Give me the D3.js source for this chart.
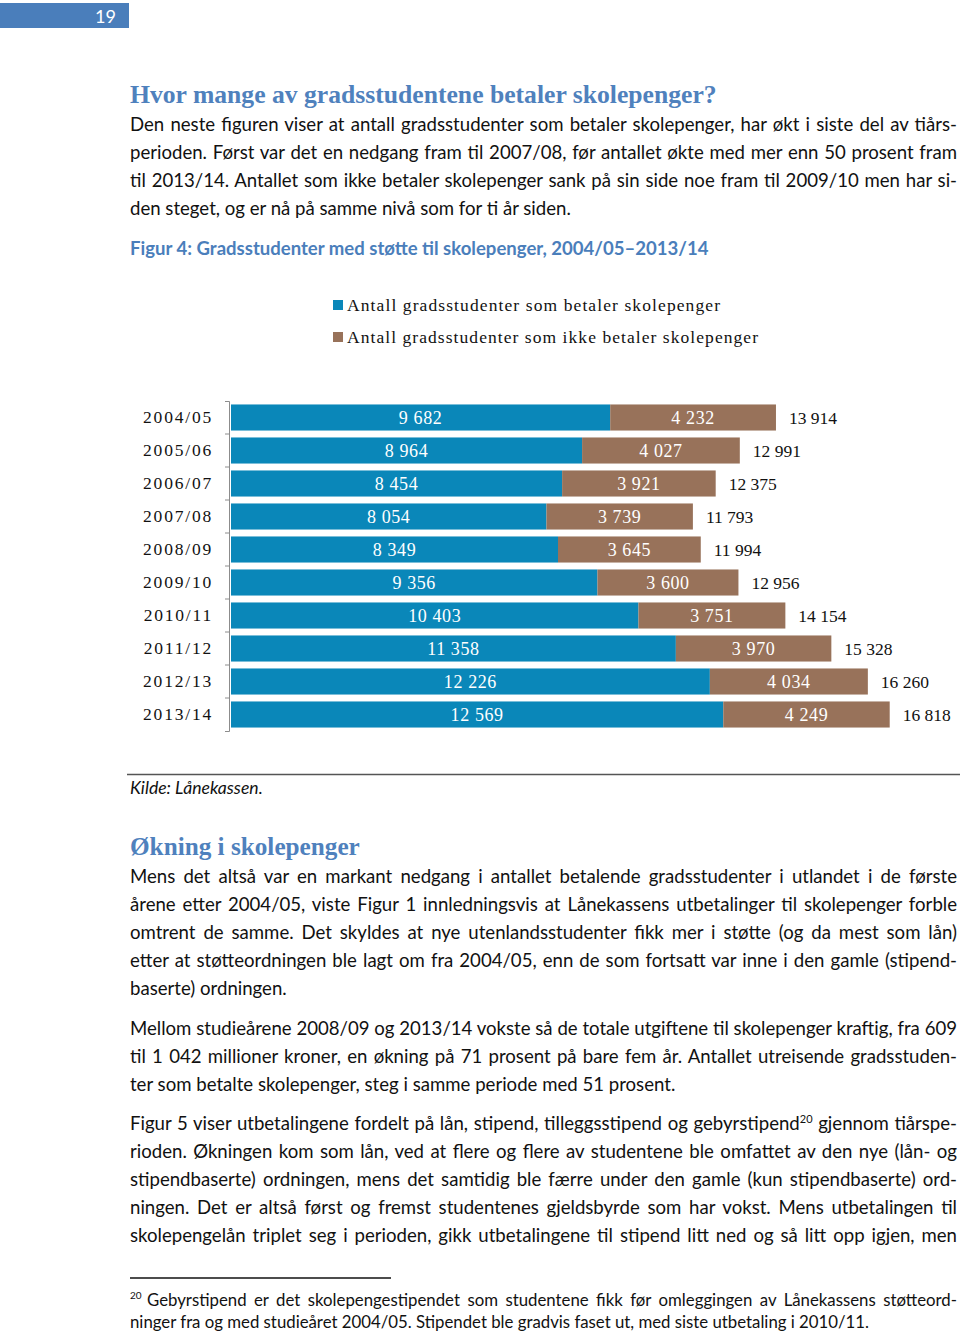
<!DOCTYPE html>
<html>
<head>
<meta charset="utf-8">
<script src="https://cdn.jsdelivr.net/npm/d3@7/dist/d3.min.js"></script>
<style>
html,body{margin:0;padding:0;background:#fff;}
svg{display:block;}
</style>
</head>
<body>
<svg id="page" width="960" height="1335"></svg>
<script>
// ---------- DATA ----------
const years = ["2004/05","2005/06","2006/07","2007/08","2008/09","2009/10","2010/11","2011/12","2012/13","2013/14"];
const betaler = [9682, 8964, 8454, 8054, 8349, 9356, 10403, 11358, 12226, 12569];
const ikkeBetaler = [4232, 4027, 3921, 3739, 3645, 3600, 3751, 3970, 4034, 4249];
const seriesNames = ["Antall gradsstudenter som betaler skolepenger","Antall gradsstudenter som ikke betaler skolepenger"];
const seriesColors = ["#0a87b9","#98725a"];

const pageNumber = "19";
const heading1 = "Hvor mange av gradsstudentene betaler skolepenger?";
const para1 = [
 "Den neste figuren viser at antall gradsstudenter som betaler skolepenger, har økt i siste del av tiårs-",
 "perioden. Først var det en nedgang fram til 2007/08, før antallet økte med mer enn 50 prosent fram",
 "til 2013/14. Antallet som ikke betaler skolepenger sank på sin side noe fram til 2009/10 men har si-",
 "den steget, og er nå på samme nivå som for ti år siden."
];
const figTitle = "Figur 4: Gradsstudenter med støtte til skolepenger, 2004/05–2013/14";
const source = "Kilde: Lånekassen.";
const heading2 = "Økning i skolepenger";
const para2 = [
 "Mens det altså var en markant nedgang i antallet betalende gradsstudenter i utlandet i de første",
 "årene etter 2004/05, viste Figur 1 innledningsvis at Lånekassens utbetalinger til skolepenger forble",
 "omtrent de samme. Det skyldes at nye utenlandsstudenter fikk mer i støtte (og da mest som lån)",
 "etter at støtteordningen ble lagt om fra 2004/05, enn de som fortsatt var inne i den gamle (stipend-",
 "baserte) ordningen."
];
const para3 = [
 "Mellom studieårene 2008/09 og 2013/14 vokste så de totale utgiftene til skolepenger kraftig, fra 609",
 "til 1 042 millioner kroner, en økning på 71 prosent på bare fem år. Antallet utreisende gradsstuden-",
 "ter som betalte skolepenger, steg i samme periode med 51 prosent."
];
const para4 = [
 ["Figur 5 viser utbetalingene fordelt på lån, stipend, tilleggsstipend og gebyrstipend","20"," gjennom tiårspe-"],
 ["rioden. Økningen kom som lån, ved at flere og flere av studentene ble omfattet av den nye (lån- og"],
 ["stipendbaserte) ordningen, mens det samtidig ble færre under den gamle (kun stipendbaserte) ord-"],
 ["ningen. Det er altså først og fremst studentenes gjeldsbyrde som har vokst. Mens utbetalingen til"],
 ["skolepengelån triplet seg i perioden, gikk utbetalingene til stipend litt ned og så litt opp igjen, men"]
];
const footnote = [
 "Gebyrstipend er det skolepengestipendet som studentene fikk før omleggingen av Lånekassens støtteord-",
 "ninger fra og med studieåret 2004/05. Stipendet ble gradvis faset ut, med siste utbetaling i 2010/11."
];

// ---------- HELPERS ----------
const svg = d3.select("#page");
const SANS = "Lato, 'Noto Sans', sans-serif";
const SERIF = "'Liberation Serif', 'DejaVu Serif', serif";
const BLUE_HEAD = "#4f81bd";
const BODY_SIZE = 18.6;
const fmt = d3.formatLocale({decimal:",", thousands:" ", grouping:[3], currency:["",""]}).format(",d");

function justify(t, width){
  const n = t.node();
  const w = n.getComputedTextLength();
  const spaces = (n.textContent.match(/ /g)||[]).length;
  if (spaces) t.attr("word-spacing", (width - w)/spaces);
}
function fitSize(t, width, base){
  const w = t.node().getComputedTextLength();
  t.attr("font-size", base * width / w);
}
function fitLetters(t, width){
  const n = t.node();
  const w = n.getComputedTextLength();
  const c = n.textContent.length;
  t.attr("letter-spacing", (width - w)/(c-1));
}
const LEFT = 130, RIGHT = 957;
function bodyLines(lines, y0, justifyAll){
  lines.forEach((line,i)=>{
    const t = svg.append("text").attr("x",LEFT).attr("y",y0+i*28)
      .attr("font-family",SANS).attr("font-size",BODY_SIZE).attr("fill","#111").text(line);
    if (justifyAll || i < lines.length-1) justify(t, RIGHT-LEFT);
  });
}

// ---------- PAGE HEADER ----------
svg.append("rect").attr("x",0).attr("y",3).attr("width",129).attr("height",25).attr("fill","#4a7ebb");
svg.append("text").attr("x",116).attr("y",23).attr("text-anchor","end")
  .attr("font-family",SANS).attr("font-size",18).attr("fill","#fff").text(pageNumber);

// ---------- TEXT ABOVE ----------
const h1 = svg.append("text").attr("x",LEFT).attr("y",103).attr("font-family",SERIF)
  .attr("font-weight","bold").attr("font-size",24).attr("fill",BLUE_HEAD).text(heading1);
fitSize(h1, 587, 24);
bodyLines(para1, 131, false);

const ft = svg.append("text").attr("x",LEFT).attr("y",255).attr("font-family",SANS)
  .attr("font-weight","bold").attr("font-size",17).attr("fill","#4a7ebb").text(figTitle);
fitSize(ft, 579, 17);

// ---------- LEGEND ----------
const legend = svg.append("g");
seriesNames.forEach((name,i)=>{
  const cy = 305 + i*32;
  legend.append("rect").attr("x",333).attr("y",cy-5).attr("width",10).attr("height",10).attr("fill",seriesColors[i]);
  const t = legend.append("text").attr("x",347).attr("y",cy+6).attr("font-family",SERIF)
    .attr("font-size",17.5).attr("fill","#111").text(name);
  fitLetters(t, i===0 ? 373 : 411);
});

// ---------- CHART ----------
const x = d3.scaleLinear().domain([0,18000]).range([231,936]);
const y = d3.scaleBand().domain(years).range([401,731]).paddingInner(0.21).paddingOuter(0.105);

const rows = years.map((yr,i)=>({year:yr, a:betaler[i], b:ikkeBetaler[i], total:betaler[i]+ikkeBetaler[i]}));

const chart = svg.append("g");
chart.selectAll("rect.a").data(rows).join("rect").attr("class","a")
  .attr("x",x(0)).attr("y",d=>y(d.year)).attr("width",d=>x(d.a)-x(0)).attr("height",y.bandwidth())
  .attr("fill",seriesColors[0]);
chart.selectAll("rect.b").data(rows).join("rect").attr("class","b")
  .attr("x",d=>x(d.a)).attr("y",d=>y(d.year)).attr("width",d=>x(d.a+d.b)-x(d.a)).attr("height",y.bandwidth())
  .attr("fill",seriesColors[1]);

const labelY = d=>y(d.year)+y.bandwidth()/2+6;
chart.selectAll("text.la").data(rows).join("text").attr("class","la")
  .attr("x",d=>(x(0)+x(d.a))/2).attr("y",labelY).attr("text-anchor","middle")
  .attr("font-family",SERIF).attr("font-size",18).attr("letter-spacing",0.6)
  .attr("fill","#fff").text(d=>fmt(d.a));
chart.selectAll("text.lb").data(rows).join("text").attr("class","lb")
  .attr("x",d=>(x(d.a)+x(d.a+d.b))/2).attr("y",labelY).attr("text-anchor","middle")
  .attr("font-family",SERIF).attr("font-size",18).attr("letter-spacing",0.6)
  .attr("fill","#fff").text(d=>fmt(d.b));
chart.selectAll("text.lt").data(rows).join("text").attr("class","lt")
  .attr("x",d=>x(d.total)+13).attr("y",labelY)
  .attr("font-family",SERIF).attr("font-size",17.5).attr("fill","#111").text(d=>fmt(d.total));

// axis
const axisG = svg.append("g").attr("transform","translate(229,0)")
  .call(d3.axisLeft(y).tickSize(0).tickSizeOuter(4).tickPadding(16));
axisG.select(".domain").attr("stroke","#8c8c8c");
axisG.selectAll(".tick text").attr("font-family",SERIF).attr("font-size",17.5)
  .attr("fill","#111").attr("letter-spacing",1.8).attr("dy","0.32em");
const step = y.step();
axisG.selectAll("line.bound").data(years.slice(1)).join("line").attr("class","bound")
  .attr("x1",-4).attr("x2",0)
  .attr("y1",d=>y(d)-(step-y.bandwidth())/2).attr("y2",d=>y(d)-(step-y.bandwidth())/2)
  .attr("stroke","#8c8c8c");

// ---------- BELOW CHART ----------
svg.append("line").attr("x1",127).attr("x2",960).attr("y1",774.5).attr("y2",774.5)
  .attr("stroke","#555").attr("stroke-width",1.3);
svg.append("text").attr("x",LEFT).attr("y",794).attr("font-family",SANS).attr("font-style","italic")
  .attr("font-size",17.6).attr("fill","#111").text(source);

const h2 = svg.append("text").attr("x",LEFT).attr("y",855).attr("font-family",SERIF)
  .attr("font-weight","bold").attr("font-size",24).attr("fill",BLUE_HEAD).text(heading2);
fitSize(h2, 230, 24);

bodyLines(para2, 883, false);
bodyLines(para3, 1035, false);

para4.forEach((parts,i)=>{
  const t = svg.append("text").attr("x",LEFT).attr("y",1130+i*28)
    .attr("font-family",SANS).attr("font-size",BODY_SIZE).attr("fill","#111");
  if (parts.length === 1) t.text(parts[0]);
  else {
    t.append("tspan").text(parts[0]);
    t.append("tspan").attr("font-size",11).attr("dy",-7).text(parts[1]);
    t.append("tspan").attr("dy",7).text(parts[2]);
  }
  justify(t, RIGHT-LEFT);
});

// footnote
svg.append("line").attr("x1",130).attr("x2",391).attr("y1",1278).attr("y2",1278)
  .attr("stroke","#111").attr("stroke-width",1.3);
svg.append("text").attr("x",LEFT).attr("y",1299).attr("font-family",SANS).attr("font-size",10)
  .attr("fill","#111").text("20");
footnote.forEach((line,i)=>{
  const t = svg.append("text").attr("x", i===0 ? 147 : LEFT).attr("y",1306+i*22)
    .attr("font-family",SANS).attr("font-size",16.8).attr("fill","#111").text(line);
  if (i===0) justify(t, RIGHT-147);
});
</script>
</body>
</html>
